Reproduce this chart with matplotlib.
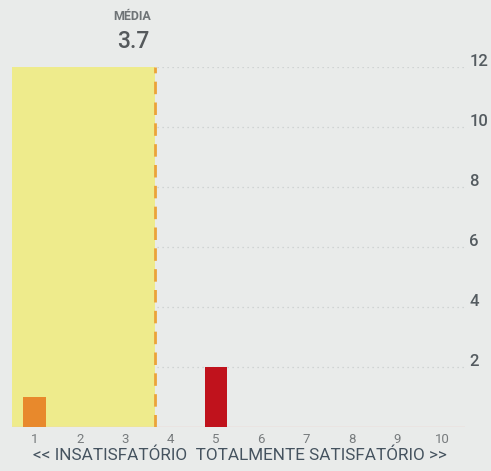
import numpy as np
import matplotlib.pyplot as plt
import matplotlib.transforms as mtransforms

# scores 1..10 and how many answers got each one
notas = [1, 2, 3, 4, 5, 6, 7, 8, 9, 10]
respostas = [1, 0, 0, 0, 2, 0, 0, 0, 0, 0]
cores = ['#e8892c', '#c8141e', '#c8141e', '#c8141e', '#c0121c',
         '#c8141e', '#c8141e', '#c8141e', '#c8141e', '#c8141e']
yticks = [2, 4, 6, 8, 10, 12]

media = np.average(notas, weights=respostas)

fig = plt.figure(figsize=(4.91, 4.71), dpi=100)
fig.patch.set_facecolor('#e9ebea')
ax = fig.add_axes([12 / 491, 1 - 427 / 471, 453 / 491, 360 / 471])
ax.set_facecolor('#e9ebea')

ax.set_xlim(0.5, 10.5)
ax.set_ylim(0, 12)

# dotted grid
for y in yticks:
    ax.axhline(y, color='#c9cccc', lw=0.9, ls=(0, (1, 3)), zorder=0)

# shaded area up to the mean
ax.axvspan(0.5, media, color='#eeeb8c', zorder=1, lw=0)
ax.axvline(media, color='#eba33a', lw=2, ls=(0, (4.5, 3)), zorder=3)

ax.bar(notas, respostas, width=0.5, color=cores, zorder=2)
ax.axhline(0, color='#f0c8c4', lw=1, zorder=1)

for s in ax.spines.values():
    s.set_visible(False)

ax.set_xticks(notas)
ax.set_xticklabels([str(n) for n in notas], fontsize=9.5, color='#777b7d', family='Roboto')
ax.tick_params(axis='x', length=0, pad=4)

ax.yaxis.tick_right()
ax.set_yticks(yticks)
ax.set_yticklabels([str(y) for y in yticks], fontsize=12, fontweight='medium',
                   color='#545b60', family='Roboto')
ax.tick_params(axis='y', length=0, pad=3)
shift = mtransforms.ScaledTranslation(0, 5 / 72, fig.dpi_scale_trans)
for lbl in ax.get_yticklabels():
    lbl.set_transform(lbl.get_transform() + shift)

ax.annotate('MÉDIA', xy=(media, 12), xycoords='data', xytext=(-17, 36),
            textcoords='offset points', ha='center', va='center',
            fontsize=9, fontweight='bold', color='#6e7376', family='Roboto')
ax.annotate(f'{media:.1f}', xy=(media, 12), xycoords='data', xytext=(-16, 18),
            textcoords='offset points', ha='center', va='center',
            fontsize=16.5, fontweight='medium', color='#55595c', family='Roboto')

fig.text(240 / 491, 1 - 455 / 471, '<< INSATISFATÓRIO  TOTALMENTE SATISFATÓRIO >>',
         ha='center', va='center', fontsize=12.3, color='#45535f', family='Roboto')

fig.savefig('out.png', dpi=100, facecolor=fig.get_facecolor())
